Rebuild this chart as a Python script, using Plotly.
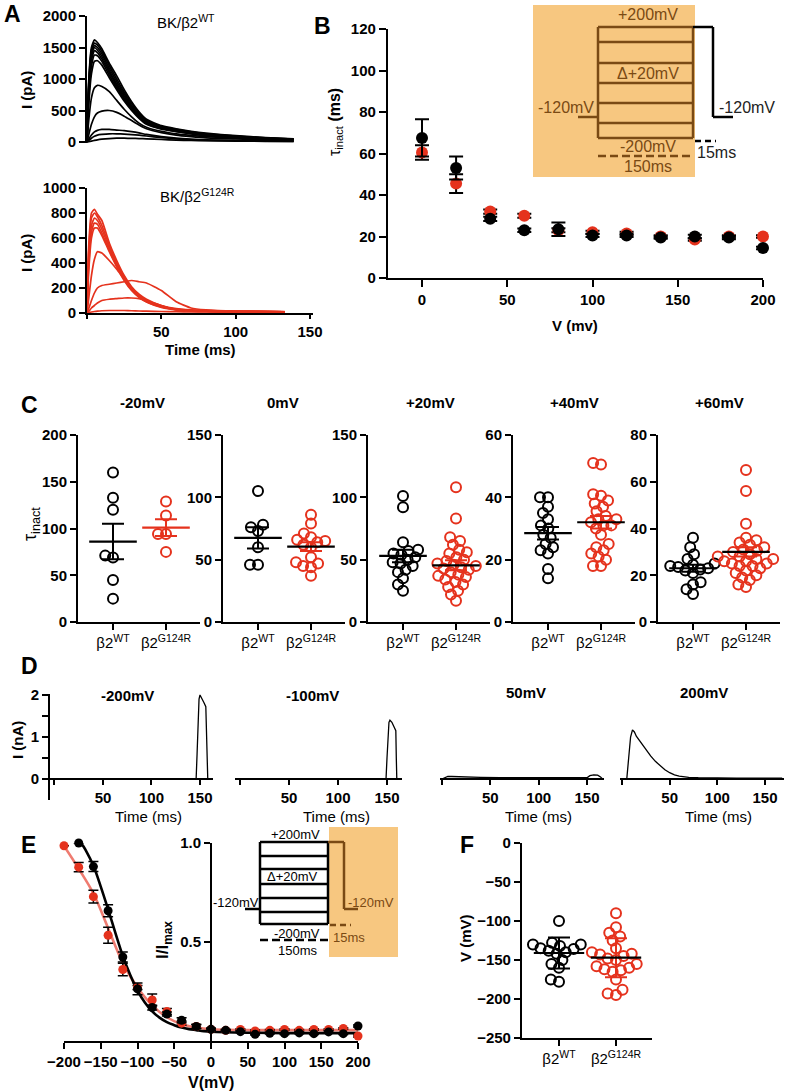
import plotly.graph_objects as go

W, H = 789, 1092
FONT = "Liberation Sans, Arial, Helvetica, sans-serif"
BLACK = "#000000"
RED = "#E5321D"
PINK = "#EF7B70"
ORANGE = "#F7C780"
BROWN = "#7A4A14"

# ---------------- DATA ----------------
# Panel A: example current traces (pA) vs time (ms)
A_TIME_WT = [0, 1, 3, 5, 7, 10, 15, 20, 25, 30, 35, 40, 50, 60, 70, 80, 100, 120, 139]
A_WT_1 = [0, 900, 1500, 1620, 1580, 1480, 1250, 1050, 830, 640, 480, 360, 260, 210, 170, 140, 100, 70, 50]
A_WT_2 = [0, 850, 1460, 1570, 1540, 1440, 1210, 1000, 790, 610, 460, 345, 250, 200, 160, 130, 95, 65, 45]
A_WT_3 = [0, 800, 1420, 1530, 1500, 1400, 1170, 960, 760, 580, 440, 330, 240, 190, 150, 120, 90, 60, 45]
A_WT_4 = [0, 760, 1380, 1500, 1460, 1360, 1130, 920, 730, 560, 420, 315, 230, 180, 145, 115, 85, 60, 40]
A_WT_5 = [0, 700, 1300, 1450, 1420, 1320, 1100, 890, 700, 540, 400, 300, 220, 175, 140, 110, 80, 55, 40]
A_WT_6 = [0, 620, 1200, 1380, 1370, 1280, 1060, 860, 680, 520, 390, 290, 215, 170, 135, 105, 80, 55, 40]
A_WT_7 = [0, 520, 1080, 1280, 1290, 1220, 1020, 830, 650, 500, 375, 280, 205, 165, 130, 100, 75, 55, 40]
A_WT_8 = [0, 300, 700, 860, 900, 880, 800, 660, 520, 400, 300, 235, 170, 130, 105, 85, 65, 45, 35]
A_WT_9 = [0, 100, 280, 400, 460, 490, 500, 470, 410, 340, 270, 210, 150, 110, 85, 65, 50, 35, 25]
A_WT_10 = [0, 40, 110, 160, 185, 200, 200, 190, 180, 165, 145, 120, 85, 60, 45, 35, 25, 20, 15]
A_WT_11 = [0, 20, 60, 90, 110, 120, 130, 130, 125, 118, 108, 95, 70, 50, 35, 25, 20, 15, 10]
A_WT_12 = [0, 5, 15, 25, 35, 45, 55, 60, 60, 58, 55, 50, 40, 30, 25, 20, 15, 10, 8]
A_WT_TRACES = [A_WT_1, A_WT_2, A_WT_3, A_WT_4, A_WT_5, A_WT_6, A_WT_7,
               A_WT_8, A_WT_9, A_WT_10, A_WT_11, A_WT_12]

A_TIME_G124R = [0, 1, 3, 5, 7, 10, 15, 20, 25, 30, 35, 40, 50, 60, 70, 80, 100, 133]
A_G124R_1 = [0, 500, 800, 830, 790, 740, 560, 420, 300, 210, 150, 110, 60, 35, 25, 20, 15, 12]
A_G124R_2 = [0, 450, 760, 800, 770, 700, 540, 400, 290, 200, 140, 100, 55, 30, 22, 18, 14, 10]
A_G124R_3 = [0, 400, 700, 760, 740, 670, 520, 390, 280, 195, 135, 95, 50, 28, 20, 15, 12, 10]
A_G124R_4 = [0, 350, 650, 720, 710, 640, 500, 380, 270, 185, 130, 90, 48, 27, 20, 15, 12, 10]
A_G124R_5 = [0, 300, 600, 680, 680, 620, 490, 370, 260, 180, 125, 88, 45, 25, 18, 14, 11, 9]
A_G124R_6 = [0, 100, 300, 430, 490, 480, 420, 350, 270, 200, 140, 100, 55, 30, 20, 15, 12, 10]
A_G124R_7 = [0, 30, 100, 160, 200, 220, 230, 240, 250, 260, 250, 240, 180, 90, 40, 25, 15, 10]
A_G124R_8 = [0, 10, 40, 60, 80, 100, 110, 115, 120, 120, 115, 100, 60, 25, 15, 10, 8, 6]
A_G124R_9 = [0, 3, 8, 12, 15, 18, 20, 20, 20, 18, 16, 15, 12, 10, 8, 8, 6, 5]
A_G124R_TRACES = [A_G124R_1, A_G124R_2, A_G124R_3, A_G124R_4, A_G124R_5,
                  A_G124R_6, A_G124R_7, A_G124R_8, A_G124R_9]

# Panel B: tau_inact (ms) vs V (mV)
B_VOLT = [0, 20, 40, 60, 80, 100, 120, 140, 160, 180, 200]
B_TAU_WT = [67.5, 53, 28.5, 23, 23.5, 20.5, 20.5, 19.5, 20, 19.5, 14.5]
B_SEM_WT = [9, 5.5, 1, 0.8, 3.3, 0.8, 0.8, 0.6, 0.8, 0.8, 0.6]
B_TAU_G124R = [60.5, 45.5, 32, 30, 23, 22, 21.5, 20, 18.5, 20, 20]
B_SEM_G124R = [3.5, 4.5, 1, 1, 1, 0.8, 0.8, 0.6, 0.6, 0.6, 0.6]

# Panel C: individual tau_inact values per voltage
C_TITLES = ["-20mV", "0mV", "+20mV", "+40mV", "+60mV"]
C_WT_M20 = [160, 133, 120, 69, 71, 45, 25]
C_G124R_M20 = [129, 114, 94, 94, 75]
C_WT_0 = [105, 78, 76, 73, 60, 46, 46]
C_G124R_0 = [86, 79, 71, 68, 66, 65, 64, 62, 60, 52, 48, 47, 45, 44, 37]
C_WT_P20 = [101, 92, 64, 58, 57, 55, 54, 52, 50, 48, 47, 45, 42, 40, 35, 30, 25]
C_G124R_P20 = [108, 83, 68, 65, 62, 58, 56, 55, 52, 50, 49, 47, 46, 45, 44, 43, 42, 40,
               38, 37, 36, 34, 32, 30, 28, 25, 22, 17]
C_WT_P40 = [40, 40, 37, 35, 33, 31, 30, 28, 27, 25, 24, 23, 22, 17, 14]
C_G124R_P40 = [51, 50.5, 41, 40.5, 39, 38, 37, 35.5, 34, 33, 33, 32, 31, 31, 30, 28,
               25, 24, 23, 22, 21, 20, 18, 18]
C_WT_P60 = [36, 32, 29, 27, 25, 24.5, 24, 23.5, 23, 22.5, 22, 21, 17, 16, 14, 12]
C_G124R_P60 = [65, 56, 42, 36, 35, 34, 33, 32, 31, 30.5, 30, 29, 28, 28, 27, 27, 26,
               26, 25, 25, 24, 24, 23, 22, 21, 20, 19, 18, 16, 15]
C_WT_SETS = [C_WT_M20, C_WT_0, C_WT_P20, C_WT_P40, C_WT_P60]
C_G124R_SETS = [C_G124R_M20, C_G124R_0, C_G124R_P20, C_G124R_P40, C_G124R_P60]
C_MEAN_WT = [86, 67.5, 53, 28.5, 23]
C_SEM_WT = [19, 8.5, 5, 2, 1.5]
C_MEAN_G124R = [101, 60.5, 45.5, 32, 30]
C_SEM_G124R = [9, 3.5, 4, 2, 2]
C_YMAX = [200, 150, 150, 60, 80]
C_YTICKS = [[0, 50, 100, 150, 200], [0, 50, 100, 150], [0, 50, 100, 150],
            [0, 20, 40, 60], [0, 20, 40, 60, 80]]
CAT_LABELS = ["β2<sup>WT</sup>", "β2<sup>G124R</sup>"]

# Panel D: example currents (nA)
D_TITLES = ["-200mV", "-100mV", "50mV", "200mV"]
D_TIME_M200 = [0, 20, 50, 100, 146, 147, 148, 149, 150, 152, 154, 156, 157, 158, 163]
D_I_M200 = [0, 0, 0, 0, 0, 0.6, 1.5, 1.9, 2.0, 1.92, 1.82, 1.72, 0.4, 0, 0]
D_TIME_M100 = [0, 50, 100, 149, 150, 151, 152, 153, 155, 157, 159, 159.5, 160, 165]
D_I_M100 = [0, 0, 0, 0, 0.5, 1.1, 1.35, 1.4, 1.35, 1.25, 1.15, 0.5, 0, 0]
D_TIME_50 = [0, 3, 6, 10, 20, 30, 40, 60, 80, 100, 120, 140, 150, 153, 157, 161, 164, 166]
D_I_50 = [0, 0.04, 0.06, 0.06, 0.05, 0.05, 0.04, 0.03, 0.03, 0.02, 0.02, 0.02, 0.03,
          0.08, 0.1, 0.09, 0.05, 0]
D_TIME_200 = [0, 5, 7, 9, 11, 13, 15, 20, 25, 30, 35, 40, 45, 50, 55, 60, 70, 80, 100,
              120, 140, 168]
D_I_200 = [0, 0, 0.5, 1.0, 1.17, 1.12, 1.02, 0.86, 0.7, 0.55, 0.42, 0.31, 0.22, 0.15,
           0.1, 0.07, 0.04, 0.03, 0.02, 0.02, 0.02, 0.02]
D_TIMES = [D_TIME_M200, D_TIME_M100, D_TIME_50, D_TIME_200]
D_CURRENTS = [D_I_M200, D_I_M100, D_I_50, D_I_200]

# Panel E: I/Imax vs V
E_V_WT = [-180, -160, -140, -120, -100, -80, -60, -40, -20, 0, 20, 40, 60, 80, 100,
          120, 140, 160, 180, 200]
E_I_WT = [1.0, 0.881, 0.658, 0.424, 0.263, 0.169, 0.136, 0.105, 0.073, 0.059, 0.054,
          0.047, 0.034, 0.039, 0.037, 0.041, 0.037, 0.046, 0.037, 0.076]
E_SEM_WT = [0, 0.025, 0.03, 0.025, 0.03, 0.012, 0.01, 0.013, 0.01, 0.005, 0.004, 0.004,
            0.004, 0.004, 0.004, 0.004, 0.004, 0.004, 0.004, 0.005]
E_V_G124R = [-200, -180, -160, -140, -120, -100, -80, -60, -40, -20, 0, 20, 40, 60, 80,
             100, 120, 140, 160, 180, 200]
E_I_G124R = [0.986, 0.878, 0.729, 0.534, 0.361, 0.27, 0.207, 0.149, 0.09, 0.073, 0.059,
             0.054, 0.058, 0.051, 0.054, 0.058, 0.054, 0.058, 0.058, 0.063, 0.025]
E_SEM_G124R = [0, 0.023, 0.032, 0.04, 0.032, 0.01, 0.03, 0.015, 0.01, 0.01, 0.005,
               0.004, 0.004, 0.004, 0.004, 0.004, 0.004, 0.004, 0.004, 0.004, 0.005]
E_FIT_V_WT = [-180, -175, -170, -160, -150, -140, -130, -120, -110, -100, -90, -80, -70,
              -60, -50, -40, -30, -20, -10, 0, 50, 100, 150, 200]
E_FIT_WT = [1.0, 0.99, 0.96, 0.885, 0.78, 0.665, 0.545, 0.43, 0.335, 0.255, 0.195, 0.15,
            0.118, 0.095, 0.08, 0.068, 0.06, 0.055, 0.05, 0.047, 0.042, 0.04, 0.04, 0.04]
E_FIT_V_G124R = [-200, -180, -160, -140, -120, -100, -80, -60, -40, -20, 0, 50, 100,
                 150, 200]
E_FIT_G124R = [0.985, 0.87, 0.745, 0.57, 0.395, 0.27, 0.18, 0.12, 0.085, 0.068, 0.059,
               0.055, 0.055, 0.055, 0.055]

# Panel F: V (mV)
F_WT = [-100, -128, -130, -130, -132, -135, -136, -138, -140, -142, -150, -155, -160,
        -175, -178]
F_G124R = [-90, -108, -115, -120, -125, -135, -140, -142, -143, -145, -148, -150, -155,
           -158, -160, -162, -163, -165, -175, -188, -193, -195]
F_MEAN = [-141, -147]
F_ERR = [20, 25]

# ---------------- HELPERS ----------------
def px_x(p):
    return p / W


def px_y(p):
    return 1 - p / H


def dom_x(p0, v0, p1, v1, rng):
    k = (p1 - p0) / (v1 - v0)
    return [px_x(p0 + (rng[0] - v0) * k), px_x(p0 + (rng[1] - v0) * k)]


def dom_y(p0, v0, p1, v1, rng):
    k = (p1 - p0) / (v1 - v0)
    return [px_y(p0 + (rng[0] - v0) * k), px_y(p0 + (rng[1] - v0) * k)]


def swarm_offsets(vals, ppu_y, ppu_x, diam):
    order = sorted(range(len(vals)), key=lambda i: vals[i])
    placed = []
    offs = [0.0] * len(vals)
    for i in order:
        y = vals[i] * ppu_y
        cands = [0.0]
        for (px, py) in placed:
            dy = y - py
            if abs(dy) < diam:
                dx = (diam * diam - dy * dy) ** 0.5
                cands.extend([px + dx, px - dx])
        cands.sort(key=lambda c: (abs(c), c))
        for c in cands:
            if all((c - px) ** 2 + (y - py) ** 2 >= diam * diam - 1e-6 for px, py in placed):
                placed.append((c, y))
                offs[i] = c / ppu_x
                break
    return offs


def ref(i, kind):
    return kind if i == 1 else f"{kind}{i}"


def key(i, kind):
    return f"{kind}axis" if i == 1 else f"{kind}axis{i}"


TICKFONT = dict(family=FONT, size=15, color=BLACK, weight="bold")
CATFONT = dict(family=FONT, size=15, color=BLACK)
AX = dict(showline=True, linecolor=BLACK, linewidth=2, ticks="outside", ticklen=6,
          tickwidth=2, tickcolor=BLACK, showgrid=False, zeroline=False,
          tickfont=TICKFONT, fixedrange=True)

layout = {}
annotations = []
shapes = []
fig = go.Figure()


def add_axes(i, xd, yd, xr, yr, xkw=None, ykw=None):
    xk = dict(AX)
    xk.update(domain=xd, range=xr, anchor=ref(i, "y"))
    xk.update(xkw or {})
    yk = dict(AX)
    yk.update(domain=yd, range=yr, anchor=ref(i, "x"))
    yk.update(ykw or {})
    layout[key(i, "x")] = xk
    layout[key(i, "y")] = yk


def ann(text, x, y, size=15, bold=False, color=BLACK, angle=0, xanchor="center"):
    annotations.append(dict(
        text=text, x=px_x(x), y=px_y(y), xref="paper", yref="paper", showarrow=False,
        font=dict(family=FONT, size=size, color=color, weight="bold" if bold else "normal"),
        textangle=angle, xanchor=xanchor, yanchor="middle"))


def seg(x0, y0, x1, y1, color, width=2.5, dash="solid"):
    shapes.append(dict(type="line", xref="paper", yref="paper", x0=px_x(x0), y0=px_y(y0),
                       x1=px_x(x1), y1=px_y(y1), layer="above",
                       line=dict(color=color, width=width, dash=dash)))


def box(x0, y0, x1, y1, color):
    shapes.append(dict(type="rect", xref="paper", yref="paper", x0=px_x(x0), y0=px_y(y0),
                       x1=px_x(x1), y1=px_y(y1), layer="below", fillcolor=color,
                       line=dict(width=0)))


# ---------------- PANEL A ----------------
add_axes(1, dom_x(87, 0, 310, 150, [0, 150]), dom_y(142, 0, 16, 2000, [-20, 2000]),
         [0, 150], [-20, 2000], xkw=dict(visible=False),
         ykw=dict(tickvals=[0, 500, 1000, 1500, 2000]))
add_axes(2, dom_x(87, 0, 310, 150, [0, 152]), dom_y(313, 0, 188, 1000, [0, 1000]),
         [0, 152], [0, 1000],
         xkw=dict(tickvals=[0, 50, 100, 150], ticktext=["", "50", "100", "150"], ticklen=4),
         ykw=dict(tickvals=[0, 200, 400, 600, 800, 1000]))
for tr in A_WT_TRACES:
    fig.add_trace(go.Scatter(x=A_TIME_WT, y=tr, mode="lines", xaxis="x", yaxis="y",
                             line=dict(color=BLACK, width=1.7, shape="spline", smoothing=0.5),
                             hoverinfo="skip"))
for tr in A_G124R_TRACES:
    fig.add_trace(go.Scatter(x=A_TIME_G124R, y=tr, mode="lines", xaxis="x2", yaxis="y2",
                             line=dict(color=RED, width=1.7, shape="spline", smoothing=0.5),
                             hoverinfo="skip"))
ann("<b>A</b>", 12, 14, size=23, bold=True)
ann("BK/β2<sup>WT</sup>", 186, 21)
ann("BK/β2<sup>G124R</sup>", 198, 195)
ann("<b>I (pA)</b>", 26, 90, angle=-90)
ann("<b>I (pA)</b>", 26, 253, angle=-90)
ann("<b>Time (ms)</b>", 200, 349)

# ---------------- PANEL B ----------------
add_axes(3, dom_x(422, 0, 763, 200, [-20, 200]), dom_y(278, 0, 29, 120, [0, 120]),
         [-20, 200], [0, 120],
         xkw=dict(tickvals=[0, 50, 100, 150, 200], ticklen=7),
         ykw=dict(tickvals=[0, 20, 40, 60, 80, 100, 120], ticklen=7))
fig.add_trace(go.Scatter(x=B_VOLT, y=B_TAU_G124R, mode="markers", xaxis="x3", yaxis="y3",
                         marker=dict(color=RED, size=12), cliponaxis=False,
                         error_y=dict(type="data", array=B_SEM_G124R, color=BLACK,
                                      thickness=2, width=7)))
fig.add_trace(go.Scatter(x=B_VOLT, y=B_TAU_WT, mode="markers", xaxis="x3", yaxis="y3",
                         marker=dict(color=BLACK, size=12), cliponaxis=False,
                         error_y=dict(type="data", array=B_SEM_WT, color=BLACK,
                                      thickness=2, width=7)))
ann("<b>B</b>", 322, 26, size=23, bold=True)
ann("<b>V (mv)</b>", 575, 325)
ann("τ<sub>inact</sub> <b>(ms)</b>", 335, 122, size=16, angle=-90)
# protocol inset
box(533, 5, 695, 177, ORANGE)
for yy in [27, 42, 63, 83, 103, 123, 138]:
    seg(598, yy, 693, yy, BROWN)
seg(598, 27, 598, 138, BROWN)
seg(693, 27, 693, 138, BROWN)
seg(578, 117, 598, 117, BROWN)
seg(693, 27, 713, 27, BLACK)
seg(713, 27, 713, 117, BLACK)
seg(713, 117, 733, 117, BLACK)
seg(695, 141, 716, 141, BLACK, dash="6px,4px")
seg(598, 156, 693, 156, BROWN, dash="8px,4px")
ann("+200mV", 648, 15, size=16, color=BROWN)
ann("Δ+20mV", 648, 74, size=16, color=BROWN)
ann("-120mV", 566, 108, size=16, color=BROWN)
ann("-120mV", 747, 108, size=16, color="#222222")
ann("-200mV", 648, 147, size=16, color=BROWN)
ann("15ms", 716, 153, size=16, color="#222222")
ann("150ms", 648, 166, size=16, color=BROWN)

# ---------------- PANEL C ----------------
C_X0 = [78, 223, 368, 513, 658]
for k in range(5):
    i = 4 + k
    x0 = C_X0[k]
    ymax = C_YMAX[k]
    add_axes(i, dom_x(x0 + 35, 0, x0 + 88, 1, [-0.66, 1.64]),
             dom_y(622, 0, 435, ymax, [0, ymax]), [-0.66, 1.64], [0, ymax],
             xkw=dict(tickvals=[0, 1], ticktext=CAT_LABELS, tickfont=CATFONT),
             ykw=dict(tickvals=C_YTICKS[k]))
    ppu_y = 187.0 / ymax
    for gi, (vals, col) in enumerate([(C_WT_SETS[k], BLACK), (C_G124R_SETS[k], RED)]):
        offs = swarm_offsets(vals, ppu_y, 53.0, 8.0)
        fig.add_trace(go.Scatter(
            x=[gi + o for o in offs], y=vals, mode="markers", xaxis=ref(i, "x"),
            yaxis=ref(i, "y"), cliponaxis=False,
            marker=dict(symbol="circle-open", size=10, color=col, line=dict(width=2))))
    for gi, (m, s, mcol, ecol) in enumerate([
            (C_MEAN_WT[k], C_SEM_WT[k], BLACK, BLACK),
            (C_MEAN_G124R[k], C_SEM_G124R[k], RED if k == 0 else BLACK, RED)]):
        fig.add_trace(go.Scatter(
            x=[gi], y=[m], mode="markers", xaxis=ref(i, "x"), yaxis=ref(i, "y"),
            cliponaxis=False,
            marker=dict(symbol="line-ew-open", size=34, color=mcol,
                        line=dict(width=2.2, color=mcol)),
            error_y=dict(type="data", array=[s], color=ecol, thickness=2, width=11)))
C_TX = [142, 283, 430, 574, 719]
for k in range(5):
    ann(C_TITLES[k], C_TX[k], 402, bold=True)
ann("<b>C</b>", 29, 405, size=23, bold=True)
ann("τ<sub>inact</sub>", 31, 524, size=18, angle=-90)

# ---------------- PANEL D ----------------
D_PX = [(54.5, 200), (240, 387), (442, 587), (622, 765)]
D_RNG = [[-4.6, 163], [-5, 165], [-2, 168], [-2, 170]]
D_TX = [127, 312, 526, 704]
D_TY = [695, 695, 692, 692]
D_XT = [148, 336, 538, 718]
for k in range(4):
    i = 9 + k
    p0, p1 = D_PX[k]
    ykw = dict(tickvals=[0, 0.5, 1, 1.5, 2], ticktext=["0", "", "1", "", "2"])
    if k > 0:
        ykw = dict(visible=False)
    add_axes(i, dom_x(p0, 0, p1, 150, D_RNG[k]), dom_y(779, 0, 695, 2, [-0.5, 2.03]),
             D_RNG[k], [-0.5, 2.03],
             xkw=dict(tickvals=[0, 50, 100, 150], ticktext=["", "50", "100", "150"],
                      anchor="free", position=px_y(779), ticklen=5),
             ykw=ykw)
    fig.add_trace(go.Scatter(x=D_TIMES[k], y=D_CURRENTS[k], mode="lines",
                             xaxis=ref(i, "x"), yaxis=ref(i, "y"),
                             line=dict(color=BLACK, width=1.3)))
    ann(D_TITLES[k], D_TX[k], D_TY[k], bold=True)
    ann("Time (ms)", D_XT[k], 816)
ann("<b>D</b>", 29, 666, size=23, bold=True)
ann("<b>I (nA)</b>", 17, 740, angle=-90)

# ---------------- PANEL E ----------------
add_axes(13, dom_x(64, -200, 358, 200, [-200, 200]), dom_y(1041, 0, 843, 1, [0, 1]),
         [-200, 200], [0, 1],
         xkw=dict(tickvals=[-200, -150, -100, -50, 0, 50, 100, 150, 200]),
         ykw=dict(tickvals=[0.5, 1.0], ticktext=["0.5", "1.0"], anchor="free",
                  position=px_x(211)))
fig.add_trace(go.Scatter(x=E_FIT_V_G124R, y=E_FIT_G124R, mode="lines", xaxis="x13",
                         yaxis="y13", line=dict(color=PINK, width=2.6, shape="spline")))
fig.add_trace(go.Scatter(x=E_FIT_V_WT, y=E_FIT_WT, mode="lines", xaxis="x13",
                         yaxis="y13", line=dict(color=BLACK, width=2.6, shape="spline")))
fig.add_trace(go.Scatter(x=E_V_G124R, y=E_I_G124R, mode="markers", xaxis="x13",
                         yaxis="y13", cliponaxis=False, marker=dict(color=RED, size=9),
                         error_y=dict(type="data", array=E_SEM_G124R, color=BLACK,
                                      thickness=1.5, width=5)))
fig.add_trace(go.Scatter(x=E_V_WT, y=E_I_WT, mode="markers", xaxis="x13",
                         yaxis="y13", cliponaxis=False, marker=dict(color=BLACK, size=9),
                         error_y=dict(type="data", array=E_SEM_WT, color=BLACK,
                                      thickness=1.5, width=5)))
ann("<b>E</b>", 28, 845, size=23, bold=True)
ann("<b>V(mV)</b>", 211, 1082, size=16)
ann("<b>I/I<sub>max</sub></b>", 164, 940, size=17, angle=-90)
# protocol inset
box(329, 827, 398, 957, ORANGE)
for yy in [842, 856, 869, 884, 898, 912, 924]:
    seg(260, yy, 328, yy, BLACK)
seg(260, 842, 260, 924, BLACK)
seg(328, 842, 328, 924, BLACK)
seg(245, 909, 260, 909, BLACK)
seg(328, 842, 344, 842, BROWN)
seg(344, 842, 344, 909, BROWN)
seg(344, 909, 358, 909, BROWN)
seg(330, 925, 351, 925, BROWN, dash="6px,4px")
seg(260, 940, 328, 940, BLACK, dash="8px,4px")
ann("+200mV", 295, 834, size=13)
ann("Δ+20mV", 292, 876, size=13)
ann("-120mV", 236, 902, size=13)
ann("-120mV", 371, 902, size=13, color=BROWN)
ann("-200mV", 297, 933, size=13)
ann("15ms", 349, 938, size=13, color=BROWN)
ann("150ms", 298, 950, size=13)

# ---------------- PANEL F ----------------
add_axes(14, dom_x(559, 0, 616, 1, [-0.65, 1.63]), dom_y(843, 0, 1038, -250, [-250, 0]),
         [-0.65, 1.63], [-250, 0],
         xkw=dict(tickvals=[0, 1], ticktext=CAT_LABELS, tickfont=CATFONT),
         ykw=dict(tickvals=[-250, -200, -150, -100, -50, 0]))
for gi, (vals, col) in enumerate([(F_WT, BLACK), (F_G124R, RED)]):
    offs = swarm_offsets(vals, 0.78, 57.0, 8.5)
    fig.add_trace(go.Scatter(
        x=[gi + o for o in offs], y=vals, mode="markers", xaxis="x14", yaxis="y14",
        cliponaxis=False,
        marker=dict(symbol="circle-open", size=10, color=col, line=dict(width=2))))
for gi, ecol in enumerate([BLACK, RED]):
    fig.add_trace(go.Scatter(
        x=[gi], y=[F_MEAN[gi]], mode="markers", xaxis="x14", yaxis="y14", cliponaxis=False,
        marker=dict(symbol="line-ew-open", size=36, color=BLACK,
                    line=dict(width=2.2, color=BLACK)),
        error_y=dict(type="data", array=[F_ERR[gi]], color=ecol, thickness=2, width=11)))
ann("<b>F</b>", 467, 845, size=23, bold=True)
ann("<b>V (mV)</b>", 466, 938, angle=-90)

layout.update(dict(
    width=W, height=H, autosize=False, showlegend=False,
    margin=dict(l=0, r=0, t=0, b=0, pad=0),
    paper_bgcolor="white", plot_bgcolor="rgba(0,0,0,0)",
    font=dict(family=FONT, color=BLACK),
    annotations=annotations, shapes=shapes, template="none",
))
fig.update_layout(**layout)
fig.write_html("out.html", config={"displayModeBar": False, "staticPlot": True},
               post_script="document.body.style.margin='0px';"
               "document.body.style.overflow='hidden';")
